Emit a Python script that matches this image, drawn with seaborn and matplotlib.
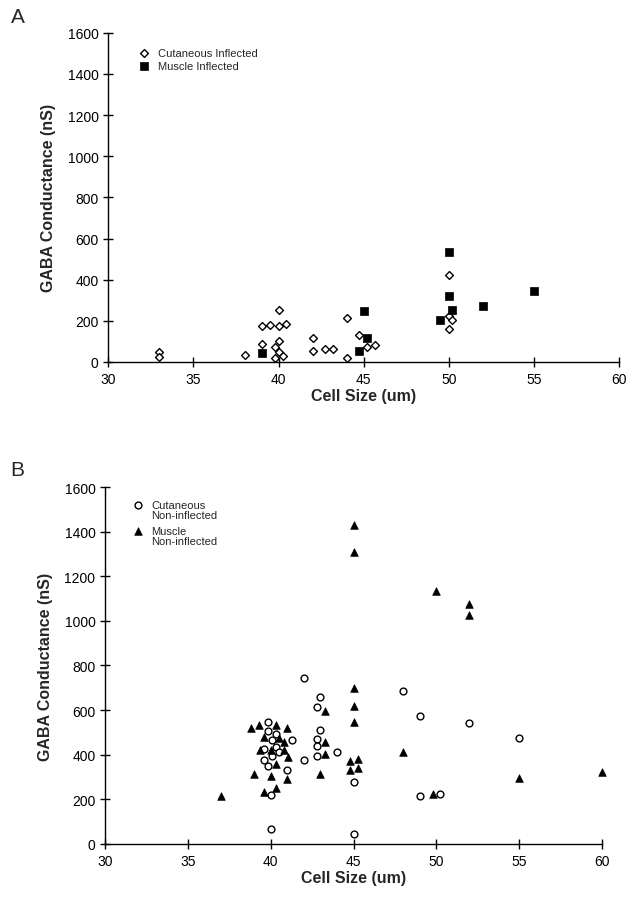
import matplotlib
matplotlib.use('Agg')
import matplotlib.pyplot as plt
import seaborn as sns
import pandas as pd

# --- DATA ---

# Panel A: infected cells
cut_inf_x = [33, 33, 38, 39, 39, 39.5, 40, 40.45, 40, 40, 39.8, 40, 39.8, 40.25,
             42, 42, 42.75, 43.2, 44, 44, 44.75, 45.2, 45.65, 50, 50, 50.2, 50]
cut_inf_y = [47, 23, 34, 86, 175, 181, 177, 185, 253, 102, 71, 49, 21, 28,
             117, 53, 65, 65, 212, 21, 130, 73, 81, 421, 225, 203, 162]
mus_inf_x = [39, 45, 45.2, 44.75, 50, 50, 50.2, 49.5, 52, 55]
mus_inf_y = [42, 248, 115, 55, 533, 323, 253, 206, 271, 345]

# Panel B: non-infected cells
cut_non_x = [39.85, 39.85, 40.3, 40.05, 41.3, 40.3, 39.6, 40.5, 40.1, 39.6, 39.85,
             41, 40, 40, 42, 42, 42.8, 42.8, 42.8, 42.8, 43, 43, 44, 45, 45,
             48, 49, 49, 50.25, 52, 55]
cut_non_y = [545, 505, 495, 465, 465, 435, 425, 410, 395, 375, 350,
             330, 220, 65, 745, 375, 615, 470, 440, 395, 660, 510, 410, 280, 43,
             685, 575, 215, 225, 540, 475]
mus_non_x = [37, 38.8, 39.3, 40.3, 41, 39.6, 40.5, 40.8, 39.35, 40, 40.8, 41.05,
             40.3, 39, 40, 41, 39.6, 40.3, 43.25, 43.25, 43.25, 43, 45, 45, 45,
             44.8, 45.25, 44.8, 45.25, 45, 45, 48, 49.8, 50, 52, 52, 55, 60]
mus_non_y = [215, 520, 535, 535, 520, 480, 475, 455, 420, 420, 420, 390,
             360, 315, 305, 290, 235, 250, 595, 455, 405, 315, 700, 620, 545,
             370, 380, 330, 340, 1430, 1310, 410, 222, 1135, 1075, 1027, 294, 321]

x_ticks = [30, 35, 40, 45, 50, 55, 60]
y_ticks = [0, 200, 400, 600, 800, 1000, 1200, 1400, 1600]

sns.set_style('white')
plt.rcParams['font.family'] = ['Liberation Sans', 'DejaVu Sans']

fig = plt.figure(figsize=(6.37, 9.12), dpi=100)
ax_a = fig.add_axes([0.170, 0.602, 0.802, 0.361])
ax_b = fig.add_axes([0.165, 0.0735, 0.780, 0.3914])


def style_axis(ax):
    ax.set_xlim(30, 60)
    ax.set_ylim(0, 1600)
    ax.set_xticks(x_ticks)
    ax.set_yticks(y_ticks)
    for side in ['top', 'right']:
        ax.spines[side].set_visible(False)
    for side in ['left', 'bottom']:
        ax.spines[side].set_color('black')
        ax.spines[side].set_linewidth(1.0)
    ax.tick_params(direction='inout', length=7, width=1, colors='black',
                   labelsize=10, bottom=True, left=True)
    ax.set_xlabel('Cell Size (um)', fontsize=11.5, fontweight='bold', labelpad=2)
    ax.set_ylabel('GABA Conductance (nS)', fontsize=11.5, fontweight='bold', labelpad=8)


def top_align_handles(leg):
    # put the marker next to the first line of a two-line label
    for col in leg._legend_handle_box.get_children():
        for row in col.get_children():
            row.align = 'top'
    for t in leg.get_texts():
        t.set_linespacing(1.0)


# --- PANEL A ---
df_ci = pd.DataFrame({'x': cut_inf_x, 'y': cut_inf_y})
df_mi = pd.DataFrame({'x': mus_inf_x, 'y': mus_inf_y})
sns.scatterplot(data=df_ci, x='x', y='y', ax=ax_a, marker='D', s=16,
                facecolor='white', edgecolor='black', linewidth=1.0,
                label='Cutaneous Inflected', clip_on=False)
sns.scatterplot(data=df_mi, x='x', y='y', ax=ax_a, marker='s', s=26,
                color='black', edgecolor='black', linewidth=0.5,
                label='Muscle Inflected', clip_on=False)
style_axis(ax_a)
ax_a.legend(loc='upper left', bbox_to_anchor=(0.04, 0.967), frameon=False,
            fontsize=8, handletextpad=0.2, labelspacing=0.3, borderaxespad=0)
ax_a.text(-0.19, 1.049, 'A', transform=ax_a.transAxes, fontsize=15, va='center')

# --- PANEL B ---
df_cn = pd.DataFrame({'x': cut_non_x, 'y': cut_non_y})
df_mn = pd.DataFrame({'x': mus_non_x, 'y': mus_non_y})
sns.scatterplot(data=df_cn, x='x', y='y', ax=ax_b, marker='o', s=24,
                facecolor='white', edgecolor='black', linewidth=1.0,
                label='Cutaneous\nNon-inflected', clip_on=False)
sns.scatterplot(data=df_mn, x='x', y='y', ax=ax_b, marker='^', s=30,
                color='black', edgecolor='black', linewidth=0.5,
                label='Muscle\nNon-inflected', clip_on=False)
style_axis(ax_b)
leg_b = ax_b.legend(loc='upper left', bbox_to_anchor=(0.035, 0.975), frameon=False,
                    fontsize=8, handletextpad=0.2, labelspacing=0.5,
                    handleheight=1.0, borderaxespad=0)
top_align_handles(leg_b)
ax_b.text(-0.19, 1.05, 'B', transform=ax_b.transAxes, fontsize=15, va='center')

fig.savefig('out.png', dpi=100)
plt.close(fig)
